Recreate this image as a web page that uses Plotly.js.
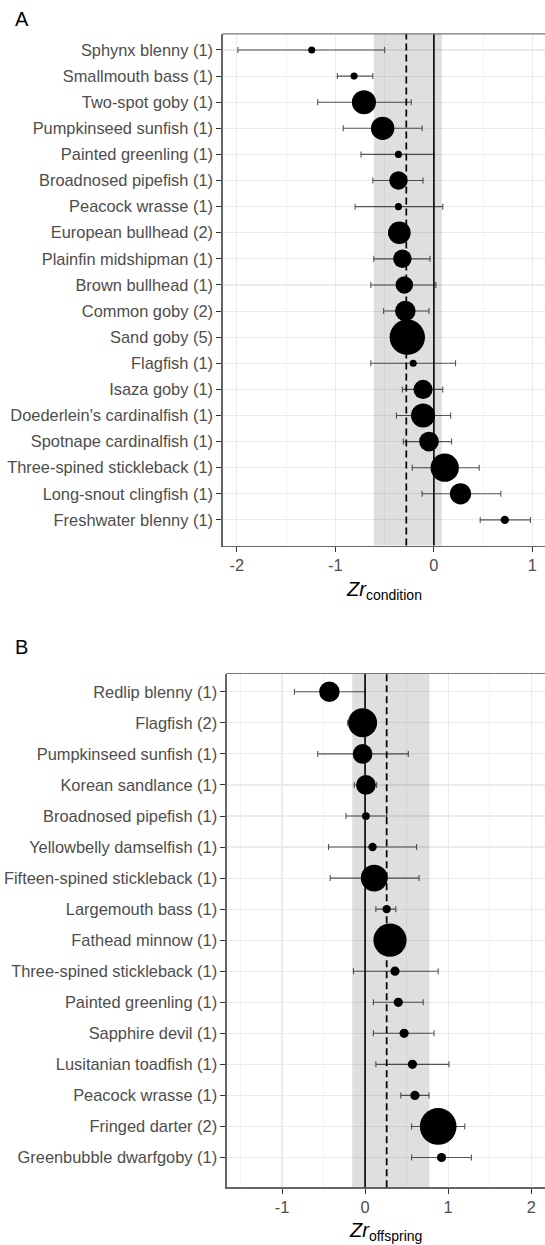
<!DOCTYPE html>
<html>
<head>
<meta charset="utf-8">
<script src="https://cdn.plot.ly/plotly-3.0.1.min.js"></script>
<style>
  html, body { margin: 0; padding: 0; background: #ffffff; overflow: hidden; }
  #chart { width: 545px; height: 1245px; }
</style>
</head>
<body>
<div id="chart"></div>
<script>
// Panel A: effect of male care on condition (Zr), species with number of studies
const speciesA = [
  "Sphynx blenny (1)", "Smallmouth bass (1)", "Two-spot goby (1)", "Pumpkinseed sunfish (1)",
  "Painted greenling (1)", "Broadnosed pipefish (1)", "Peacock wrasse (1)", "European bullhead (2)",
  "Plainfin midshipman (1)", "Brown bullhead (1)", "Common goby (2)", "Sand goby (5)",
  "Flagfish (1)", "Isaza goby (1)", "Doederlein's cardinalfish (1)", "Spotnape cardinalfish (1)",
  "Three-spined stickleback (1)", "Long-snout clingfish (1)", "Freshwater blenny (1)"
];
const zrA   = [-1.24, -0.81, -0.71, -0.52, -0.36, -0.36, -0.36, -0.35, -0.32, -0.30, -0.29, -0.27, -0.21, -0.11, -0.11, -0.05, 0.11, 0.27, 0.72];
const lowA  = [-1.99, -0.98, -1.18, -0.92, -0.74, -0.62, -0.80, -0.46, -0.61, -0.64, -0.51, -0.38, -0.64, -0.32, -0.38, -0.31, -0.22, -0.12, 0.47];
const highA = [-0.50, -0.62, -0.23, -0.12, 0.00, -0.11, 0.09, -0.25, -0.04, 0.02, -0.05, -0.13, 0.22, 0.09, 0.17, 0.18, 0.46, 0.68, 0.98];
const weightA = [1.0, 1.0, 11.6, 10.9, 1.0, 6.8, 1.0, 10.2, 6.8, 6.1, 8.4, 25.0, 1.0, 7.3, 11.6, 7.8, 16.0, 9.0, 1.4];
const meanA = -0.28;
const meanCIA = [-0.61, 0.08];
const tickValsA = [-2, -1, 0, 1];
const tickTextA = ["-2", "-1", "0", "1"];

// Panel B: effect of male care on offspring (Zr)
const speciesB = [
  "Redlip blenny (1)", "Flagfish (2)", "Pumpkinseed sunfish (1)", "Korean sandlance (1)",
  "Broadnosed pipefish (1)", "Yellowbelly damselfish (1)", "Fifteen-spined stickleback (1)",
  "Largemouth bass (1)", "Fathead minnow (1)", "Three-spined stickleback (1)",
  "Painted greenling (1)", "Sapphire devil (1)", "Lusitanian toadfish (1)", "Peacock wrasse (1)",
  "Fringed darter (2)", "Greenbubble dwarfgoby (1)"
];
const zrB   = [-0.43, -0.03, -0.03, 0.01, 0.01, 0.09, 0.11, 0.26, 0.30, 0.36, 0.40, 0.47, 0.57, 0.60, 0.88, 0.92];
const lowB  = [-0.85, -0.21, -0.57, -0.13, -0.23, -0.44, -0.42, 0.13, 0.20, -0.14, 0.10, 0.10, 0.13, 0.43, 0.56, 0.56];
const highB = [0.00, 0.13, 0.52, 0.14, 0.26, 0.62, 0.65, 0.37, 0.39, 0.88, 0.70, 0.83, 1.01, 0.77, 1.20, 1.28];
const weightB = [8.4, 16.8, 7.8, 7.8, 1.2, 1.4, 14.4, 1.4, 22.1, 1.7, 1.7, 1.7, 1.7, 1.7, 27.0, 1.7];
const meanB = 0.26;
const meanCIB = [-0.155, 0.775];
const tickValsB = [-1, 0, 1, 2];
const tickTextB = ["-1", "0", "1", "2"];

const W = 545, H = 1245;
const FONT = "Liberation Sans, Arial, Helvetica, sans-serif";
const px = v => v / W;          // horizontal pixel -> paper
const py = v => 1 - v / H;      // vertical pixel -> paper

function forestTrace(species, zr, lo, hi, w, xa, ya) {
  return {
    type: "scatter", mode: "markers", xaxis: xa, yaxis: ya,
    x: zr, y: species,
    error_x: {
      type: "data", symmetric: false,
      array: hi.map((h, i) => h - zr[i]),
      arrayminus: lo.map((l, i) => zr[i] - l),
      color: "#555555", thickness: 1.1, width: 3
    },
    marker: { color: "#000000", opacity: 1, size: w, sizemode: "area", sizeref: 0.04, line: { width: 0 } },
    hoverinfo: "x+y", cliponaxis: false
  };
}

function xAxis(domain, range, vals, text, minorVals, anchor) {
  return {
    domain: domain, range: range, anchor: anchor,
    tickmode: "array", tickvals: vals, ticktext: text,
    ticks: "outside", ticklen: 5, tickwidth: 1, tickcolor: "#333333",
    tickfont: { family: FONT, size: 16.4, color: "#4d4d4d" },
    showgrid: true, gridcolor: "#ebebeb", gridwidth: 1.1,
    minor: { tickmode: "array", tickvals: minorVals, showgrid: true, gridcolor: "#f0f0f0", gridwidth: 0.8, ticks: "" },
    zeroline: false, showline: true, linecolor: "#666666", linewidth: 1.2,
    fixedrange: true
  };
}

function yAxis(domain, species, range, anchor) {
  return {
    domain: domain, anchor: anchor, type: "category",
    categoryorder: "array", categoryarray: species, range: range,
    ticks: "outside", ticklen: 5, tickwidth: 1, tickcolor: "#333333",
    tickfont: { family: FONT, size: 16.4, color: "#4d4d4d" },
    showgrid: true, gridcolor: "#ebebeb", gridwidth: 1.1,
    zeroline: false, showline: true, linecolor: "#666666", linewidth: 1.2,
    automargin: false, fixedrange: true
  };
}

// Pooled-estimate band, zero line, pooled mean (dashed) and the panel's top border
function panelShapes(xa, ya, mean, ci) {
  const yd = ya + " domain";
  return [
    { type: "rect", xref: xa, yref: yd, x0: ci[0], x1: ci[1], y0: 0, y1: 1,
      fillcolor: "rgba(0,0,0,0.125)", line: { width: 0 }, layer: "above" },
    { type: "line", xref: xa, yref: yd, x0: 0, x1: 0, y0: 0, y1: 1,
      line: { color: "#000000", width: 1.6 }, layer: "above" },
    { type: "line", xref: xa, yref: yd, x0: mean, x1: mean, y0: 0, y1: 1,
      line: { color: "#000000", width: 1.7, dash: "7px,4px" }, layer: "above" },
    { type: "line", xref: xa + " domain", yref: yd, x0: 0, x1: 1, y0: 1, y1: 1,
      line: { color: "#777777", width: 1.2 }, layer: "above" }
  ];
}

const traces = [
  forestTrace(speciesA, zrA, lowA, highA, weightA, "x", "y"),
  forestTrace(speciesB, zrB, lowB, highB, weightB, "x2", "y2")
];

const layout = {
  width: W, height: H,
  margin: { l: 0, r: 0, t: 0, b: 0 },
  paper_bgcolor: "#ffffff", plot_bgcolor: "#ffffff",
  showlegend: false,
  font: { family: FONT, color: "#4d4d4d" },
  xaxis: xAxis([px(222.5), 1], [-2.146, 1.128], tickValsA, tickTextA, [-1.5, -0.5, 0.5], "y"),
  yaxis: yAxis([py(545.5), py(33.8)], speciesA, [18.98, -0.62], "x"),
  xaxis2: xAxis([px(226.6), 1], [-1.667, 2.166], tickValsB, tickTextB, [-1.5, -0.5, 0.5, 1.5], "y2"),
  yaxis2: yAxis([py(1187.3), py(673.5)], speciesB, [15.96, -0.59], "x2"),
  shapes: panelShapes("x", "y", meanA, meanCIA).concat(panelShapes("x2", "y2", meanB, meanCIB)),
  annotations: [
    { text: "A", xref: "paper", yref: "paper", x: px(12.5), y: py(19), xanchor: "left", yanchor: "middle",
      showarrow: false, font: { family: FONT, size: 20, color: "#000000" } },
    { text: "B", xref: "paper", yref: "paper", x: px(12.5), y: py(647), xanchor: "left", yanchor: "middle",
      showarrow: false, font: { family: FONT, size: 20, color: "#000000" } },
    { text: "<i>Zr</i><sub>condition</sub>", xref: "x domain", yref: "paper", x: 0.5, y: py(590),
      xanchor: "center", yanchor: "middle", showarrow: false,
      font: { family: FONT, size: 20, color: "#000000" } },
    { text: "<i>Zr</i><sub>offspring</sub>", xref: "x2 domain", yref: "paper", x: 0.5, y: py(1231),
      xanchor: "center", yanchor: "middle", showarrow: false,
      font: { family: FONT, size: 20, color: "#000000" } }
  ]
};

Plotly.newPlot("chart", traces, layout, { displayModeBar: false, staticPlot: true });
</script>
</body>
</html>
